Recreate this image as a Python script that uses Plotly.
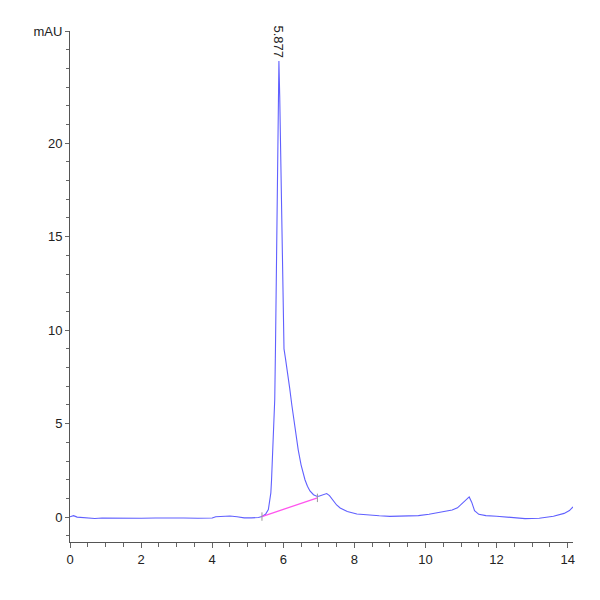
import plotly.graph_objects as go

# chromatogram trace (retention time in min, signal in mAU)
rt = [0.00, 0.05, 0.10, 0.20, 0.40, 0.70, 0.90, 1.20, 1.60, 2.00, 2.40, 2.80, 3.20, 3.60,
      4.00, 4.10, 4.30, 4.50, 4.70, 4.90, 5.10, 5.30, 5.40, 5.50, 5.58, 5.62, 5.65, 5.67,
      5.70, 5.72, 5.74, 5.76, 5.78, 5.80, 5.83, 5.855, 5.877, 5.90, 5.93, 5.95, 5.97, 6.00,
      6.02, 6.06, 6.12, 6.18, 6.24, 6.30, 6.36, 6.42, 6.50, 6.56, 6.61, 6.68, 6.75, 6.85,
      6.94, 7.00, 7.08, 7.15, 7.22, 7.30, 7.41, 7.50, 7.60, 7.80, 8.07, 8.40, 8.70, 9.00,
      9.40, 9.80, 10.10, 10.40, 10.60, 10.75, 10.90, 11.05, 11.15, 11.23, 11.30, 11.38,
      11.50, 11.70, 12.00, 12.40, 12.80, 13.20, 13.60, 13.90, 14.05, 14.15]
signal = [0.02, 0.05, 0.08, 0.00, -0.03, -0.07, -0.05, -0.06, -0.05, -0.06, -0.05, -0.07, -0.05, -0.06,
          -0.05, 0.02, 0.03, 0.06, 0.02, -0.04, -0.04, -0.02, 0.03, 0.15, 0.40, 0.80, 1.30, 2.00,
          3.20, 4.70, 5.60, 6.30, 9.00, 12.90, 17.00, 22.00, 24.40, 22.50, 19.00, 16.00, 12.90, 10.00,
          9.00, 8.50, 7.80, 6.90, 6.00, 5.10, 4.30, 3.60, 2.80, 2.30, 2.00, 1.65, 1.40, 1.20,
          1.12, 1.12, 1.18, 1.24, 1.26, 1.15, 0.85, 0.65, 0.49, 0.30, 0.17, 0.10, 0.07, 0.04,
          0.04, 0.08, 0.15, 0.25, 0.33, 0.38, 0.50, 0.75, 0.95, 1.08, 0.80, 0.35,
          0.15, 0.08, 0.05, 0.00, -0.08, -0.06, 0.05, 0.20, 0.35, 0.55]

# integration baseline of the main peak
base_rt = [5.40, 6.96]
base_signal = [0.03, 1.03]

peak_rt = 5.877
peak_height = 24.4

fig = go.Figure()

fig.add_trace(go.Scatter(
    x=rt, y=signal, mode='lines',
    line=dict(color='#6060ff', width=1.1),
    hoverinfo='x+y', showlegend=False
))

fig.add_trace(go.Scatter(
    x=base_rt, y=base_signal, mode='lines+markers',
    line=dict(color='#ff55ee', width=1.3),
    marker=dict(symbol='line-ns', size=6, color='#999999', line=dict(color='#999999', width=1)),
    showlegend=False
))

# retention time label on the peak
fig.add_annotation(
    x=peak_rt, y=peak_height, text=f"{peak_rt:.3f}",
    showarrow=False, textangle=90, yanchor='bottom', xanchor='center',
    font=dict(size=13, color='#222222', family='Liberation Sans, Arial')
)

axis_font = dict(size=13, color='#222222', family='Liberation Sans, Arial')

fig.update_layout(
    width=600, height=600,
    paper_bgcolor='white', plot_bgcolor='white',
    margin=dict(l=62, r=35, t=23, b=66),
    xaxis=dict(
        range=[0, 14.15], tickmode='array', tickvals=[0, 2, 4, 6, 8, 10, 12, 14],
        ticks='outside', ticklen=5, tickcolor='#666666', tickfont=axis_font,
        showline=True, linecolor='#555555', linewidth=1, showgrid=False, zeroline=False,
        minor=dict(dtick=0.5, ticks='outside', ticklen=4, tickcolor='#666666', showgrid=False),
    ),
    yaxis=dict(
        range=[-1.33, 26], tickmode='array', tickvals=[0, 5, 10, 15, 20, 26],
        ticktext=['0', '5', '10', '15', '20', 'mAU'],
        ticks='outside', ticklen=4, tickcolor='#666666', tickfont=axis_font,
        showline=True, linecolor='#555555', linewidth=1, showgrid=False, zeroline=False,
        minor=dict(dtick=1, ticks='outside', ticklen=3, tickcolor='#666666', showgrid=False),
    ),
)

fig.write_html("out.html")
